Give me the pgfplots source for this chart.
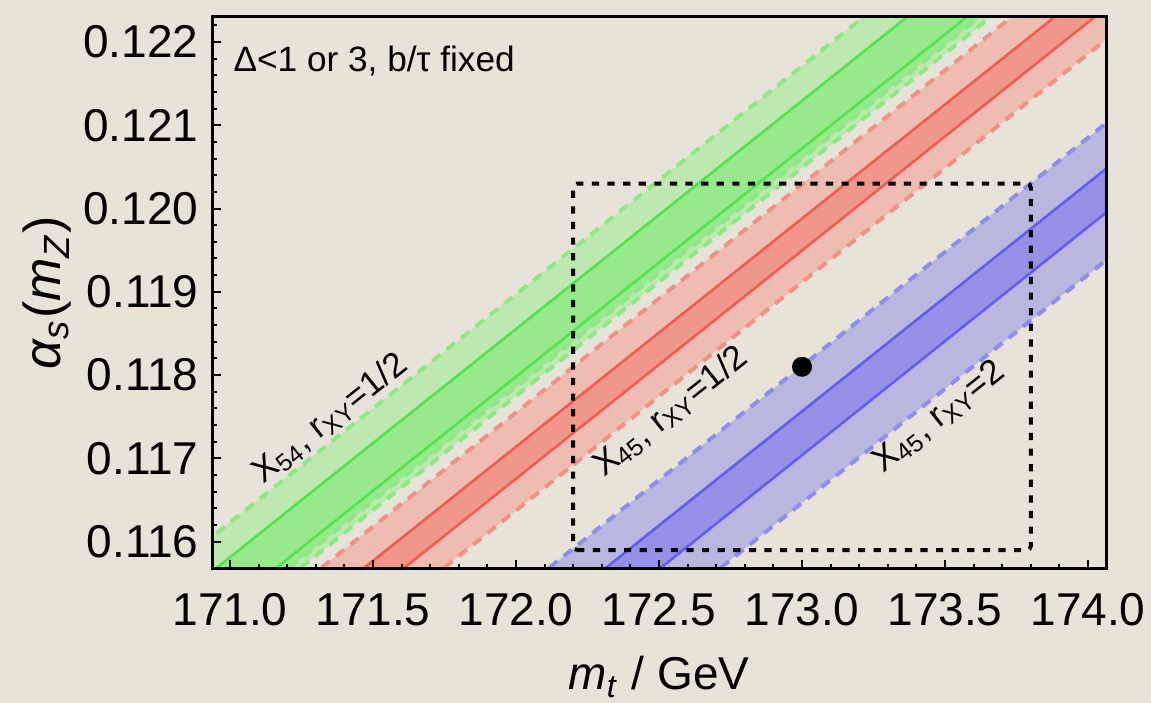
\documentclass[border=0pt]{standalone}
\usepackage{fontspec}
\setmainfont{Liberation Sans}
\usepackage{pgfplots}
\pgfplotsset{compat=1.18}

\definecolor{bg}{HTML}{E7E3D8}
\definecolor{gOut}{HTML}{BDE8B0}
\definecolor{gIn}{HTML}{98E98C}
\definecolor{gLine}{HTML}{55E252}
\definecolor{gDash}{HTML}{8EE886}
\definecolor{rOut}{HTML}{EFBCB1}
\definecolor{rIn}{HTML}{F1968B}
\definecolor{rLine}{HTML}{F05C52}
\definecolor{rDash}{HTML}{F09186}
\definecolor{bOut}{HTML}{B9B7E0}
\definecolor{bIn}{HTML}{9591E6}
\definecolor{bLine}{HTML}{625EF0}
\definecolor{bDash}{HTML}{8E8CEE}

\tikzset{
  solidband/.style={line width=0.65pt},
  dashband/.style={line width=1pt, dash pattern=on 2.6pt off 2pt},
}

\begin{document}
\begin{tikzpicture}
% page = 1151 x 703 px at 1px = 0.25pt
\useasboundingbox (-53pt,-33.5pt) rectangle (234.75pt,142.25pt);
\fill[bg] (-53pt,-33.5pt) rectangle (234.75pt,142.25pt);
\begin{axis}[
  at={(0,0)}, anchor=south west,
  scale only axis,
  width=223.5pt, height=138.075pt,
  xmin=170.937, xmax=174.063,
  ymin=0.115672, ymax=0.122303,
  axis on top,
  axis line style={line width=0.75pt},
  xtick={171,171.5,...,174},
  ytick={0.116,0.117,...,0.1225},
  minor x tick num=4, minor y tick num=4,
  xtick pos=bottom, ytick pos=left,
  tick align=inside,
  major tick length=2.3pt, minor tick length=1.3pt,
  tick style={line width=0.5pt, black},
  scaled x ticks=false, scaled y ticks=false,
  ticklabel style={font=\fontsize{11.5}{14}\selectfont, inner sep=0pt,
    /pgf/number format/fixed, /pgf/number format/fixed zerofill,
    /pgf/number format/assume math mode=true},
  xticklabel style={yshift=-6pt, /pgf/number format/precision=1},
  yticklabel style={xshift=-3.2pt, /pgf/number format/precision=3},
  xlabel={\textit{m}\textsubscript{\textit{t}} / GeV},
  ylabel={\textit{α}\textsubscript{\textit{s}}(\textit{m}\textsubscript{\textit{Z}})},
  xlabel style={at={(axis description cs:0.5,-0.219)}, anchor=base, font=\fontsize{11.5}{13}\selectfont},
  ylabel style={at={(axis description cs:-0.184,0.5)}, anchor=center, font=\fontsize{13}{15}\selectfont},
]
% ---- green band (X54, r=1/2)
\addplot[fill=gOut, draw=none] coordinates {(170.551,0.115) (173.471,0.123) (173.916,0.123) (170.996,0.115)} -- cycle;
\addplot[fill=gIn, draw=none] coordinates {(170.703,0.115) (173.623,0.123) (173.877,0.123) (170.957,0.115)} -- cycle;
\addplot[gDash, dashband] coordinates {(170.551,0.115) (173.471,0.123)};
\addplot[gLine, solidband] coordinates {(170.703,0.115) (173.623,0.123)};
\addplot[gLine, solidband] coordinates {(170.912,0.115) (173.832,0.123)};
\addplot[gDash, dashband] coordinates {(170.957,0.115) (173.877,0.123)};
\addplot[gDash, dashband] coordinates {(170.996,0.115) (173.916,0.123)};
% ---- red band (X45, r=1/2)
\addplot[fill=rOut, draw=none] coordinates {(171.069,0.115) (173.989,0.123) (174.418,0.123) (171.498,0.115)} -- cycle;
\addplot[fill=rIn, draw=none] coordinates {(171.219,0.115) (174.139,0.123) (174.279,0.123) (171.359,0.115)} -- cycle;
\addplot[rDash, dashband] coordinates {(171.069,0.115) (173.989,0.123)};
\addplot[rLine, solidband] coordinates {(171.219,0.115) (174.139,0.123)};
\addplot[rLine, solidband] coordinates {(171.359,0.115) (174.279,0.123)};
\addplot[rDash, dashband] coordinates {(171.498,0.115) (174.418,0.123)};
% ---- blue band (X45, r=2)
\addplot[fill=bOut, draw=none] coordinates {(171.865,0.115) (174.785,0.123) (175.385,0.123) (172.465,0.115)} -- cycle;
\addplot[fill=bIn, draw=none] coordinates {(172.064,0.115) (174.984,0.123) (175.176,0.123) (172.256,0.115)} -- cycle;
\addplot[bDash, dashband] coordinates {(171.865,0.115) (174.785,0.123)};
\addplot[bLine, solidband] coordinates {(172.064,0.115) (174.984,0.123)};
\addplot[bLine, solidband] coordinates {(172.256,0.115) (175.176,0.123)};
\addplot[bDash, dashband] coordinates {(172.465,0.115) (175.385,0.123)};
% ---- experimental box and central point
\addplot[black, line width=1pt, dash pattern=on 1.8pt off 2.1pt, rounded corners=1pt]
  coordinates {(172.2,0.1159) (173.8,0.1159) (173.8,0.1203) (172.2,0.1203)} -- cycle;
\addplot[only marks, mark=*, mark size=2.3pt, black] coordinates {(173.0,0.1181)};
% ---- labels
\node[anchor=west, inner sep=0pt, font=\fontsize{8.8}{10}\selectfont] at (axis cs:171.01,0.12177) {Δ<1 or 3, b/τ fixed};
\node[rotate=38.6, font=\fontsize{8.7}{10}\selectfont] at (axis cs:171.35,0.11748) {X\textsubscript{54}, r\textsubscript{XY}=1/2};
\node[rotate=38.6, font=\fontsize{8.7}{10}\selectfont] at (axis cs:172.54,0.11756) {X\textsubscript{45}, r\textsubscript{XY}=1/2};
\node[rotate=38.6, font=\fontsize{8.7}{10}\selectfont] at (axis cs:173.48,0.11750) {X\textsubscript{45}, r\textsubscript{XY}=2};
\end{axis}
\end{tikzpicture}
\end{document}
